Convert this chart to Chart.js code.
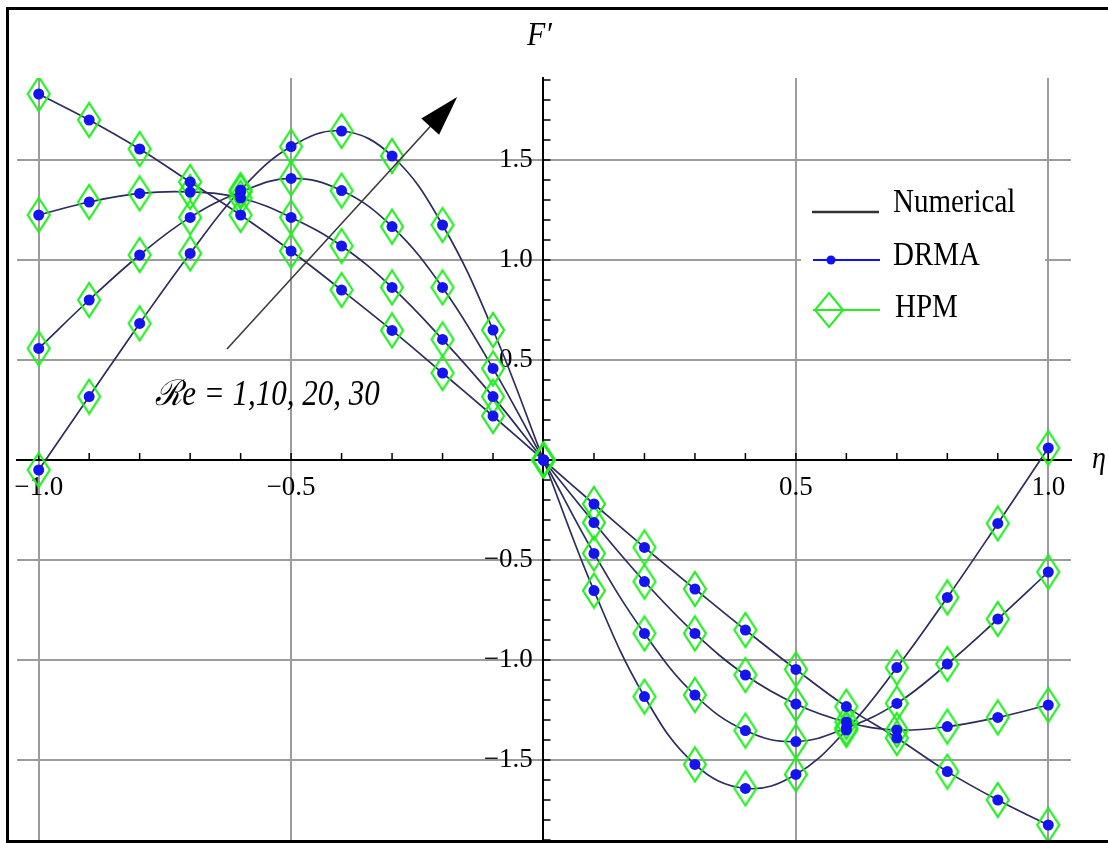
<!DOCTYPE html>
<html>
<head>
<meta charset="utf-8">
<title>F' vs eta</title>
<script src="https://cdn.jsdelivr.net/npm/chart.js@4"></script>
<style>
  html, body { margin: 0; padding: 0; background: #fff; }
</style>
</head>
<body>
<canvas id="fChart" width="1108" height="843"></canvas>
<script>
// ---------------------------------------
// DATA  (F' against eta)
// Numerical, DRMA and HPM sit on top of each other,
// so the three methods share the same values.
// ---------------------------------------

const eta = [-1.0, -0.9, -0.8, -0.7, -0.6, -0.5, -0.4, -0.3, -0.2, -0.1, 0,
              0.1,  0.2,  0.3,  0.4,  0.5,  0.6,  0.7,  0.8,  0.9, 1.0];

const re1  = [1.83, 1.70, 1.555, 1.39, 1.225, 1.045, 0.85, 0.648, 0.435, 0.22, 0,
              -0.22, -0.437, -0.645, -0.85, -1.047, -1.233, -1.39, -1.558, -1.70, -1.825];

const re10 = [1.225, 1.29, 1.333, 1.34, 1.31, 1.213, 1.07, 0.863, 0.603, 0.317, 0,
              -0.313, -0.608, -0.867, -1.075, -1.22, -1.31, -1.35, -1.333, -1.287, -1.225];

const re20 = [0.558, 0.80, 1.025, 1.213, 1.34, 1.408, 1.347, 1.167, 0.863, 0.458, 0,
              -0.467, -0.867, -1.175, -1.353, -1.408, -1.34, -1.217, -1.02, -0.795, -0.56];

const re30 = [-0.05, 0.317, 0.683, 1.033, 1.35, 1.567, 1.645, 1.52, 1.175, 0.65, 0,
              -0.653, -1.183, -1.522, -1.642, -1.572, -1.35, -1.038, -0.687, -0.317, 0.06];

const methods = ["Numerical", "DRMA", "HPM"];
const xTickLabels = [-1.0, -0.5, 0.5, 1.0];
const yTickLabels = [-1.5, -1.0, -0.5, 0.5, 1.0, 1.5];

// colours
const lineColor = "#2c2c5e";
const dotColor = "#1414ee";
const diamondColor = "#22ee22";

// ---------------------------------------
// helpers
// ---------------------------------------

function diamondImage(w, h) {
    const c = document.createElement("canvas");
    c.width = w + 4;
    c.height = h + 4;
    const g = c.getContext("2d");
    g.strokeStyle = diamondColor;
    g.lineWidth = 2.2;
    g.beginPath();
    g.moveTo(c.width / 2, 2);
    g.lineTo(c.width - 2, c.height / 2);
    g.lineTo(c.width / 2, c.height - 2);
    g.lineTo(2, c.height / 2);
    g.closePath();
    g.stroke();
    return c;
}

const diamond = diamondImage(22, 34);

const isHalf = v => Math.abs(v * 2 - Math.round(v * 2)) < 1e-6 && Math.abs(v) > 1e-6;
const fmt = v => (v < 0 ? "\u2212" : "") + Math.abs(v).toFixed(1);
const pts = arr => eta.map((x, i) => ({ x: x, y: arr[i] }));

const datasets = [];
[re1, re10, re20, re30].forEach(s => {
    datasets.push({
        label: methods[0], data: pts(s), showLine: true,
        borderColor: lineColor, borderWidth: 1.7, pointRadius: 0,
        tension: 0.4, order: 3
    });
    datasets.push({
        label: methods[2], data: pts(s), showLine: false,
        pointStyle: diamond, pointRadius: 12, order: 2
    });
    datasets.push({
        label: methods[1], data: pts(s), showLine: false,
        pointStyle: "circle", pointRadius: 5.5,
        backgroundColor: dotColor, borderColor: dotColor, borderWidth: 0, order: 1
    });
});

// stretched serif text, the figure was scaled a bit taller than wide
function sText(ctx, str, x, y, font, align) {
    ctx.save();
    ctx.font = font;
    ctx.fillStyle = "#000";
    ctx.textAlign = align || "left";
    ctx.textBaseline = "alphabetic";
    ctx.translate(x, y);
    ctx.scale(1, 1.15);
    ctx.fillText(str, 0, 0);
    ctx.restore();
}

// ---------------------------------------
// decorations: minor ticks, arrow, labels, legend, frame
// ---------------------------------------

const decor = {
    id: "decor",
    beforeDatasetsDraw(chart) {
        const ctx = chart.ctx;
        const xs = chart.scales.x, ys = chart.scales.y;
        const x0 = xs.getPixelForValue(0), y0 = ys.getPixelForValue(0);
        ctx.save();
        ctx.strokeStyle = "#000";
        ctx.lineWidth = 1.5;
        xs.ticks.forEach(t => {
            const r = Math.round(t.value * 10);
            if (Math.abs(t.value * 10 - r) > 1e-6 || r === 0) return;
            const px = xs.getPixelForValue(t.value);
            ctx.beginPath(); ctx.moveTo(px, y0); ctx.lineTo(px, y0 - 7); ctx.stroke();
        });
        ys.ticks.forEach(t => {
            const r = Math.round(t.value * 10);
            if (Math.abs(t.value * 10 - r) > 1e-6 || r === 0) return;
            const py = ys.getPixelForValue(t.value);
            ctx.beginPath(); ctx.moveTo(x0, py); ctx.lineTo(x0 + 7, py); ctx.stroke();
        });
        ctx.restore();
    },
    afterDatasetsDraw(chart) {
        const ctx = chart.ctx;
        const xs = chart.scales.x, ys = chart.scales.y;
        const P = (x, y) => [xs.getPixelForValue(x), ys.getPixelForValue(y)];

        // arrow, direction of growing Re
        const [ax, ay] = P(-0.627, 0.555);
        const [bx, by] = P(-0.171, 1.815);
        const ang = Math.atan2(by - ay, bx - ax);
        const headLen = 40, headHalf = 12;
        const hx = bx - headLen * Math.cos(ang), hy = by - headLen * Math.sin(ang);
        ctx.save();
        ctx.strokeStyle = "#3a3a3a";
        ctx.lineWidth = 1.6;
        ctx.beginPath(); ctx.moveTo(ax, ay); ctx.lineTo(hx, hy); ctx.stroke();
        ctx.fillStyle = "#000";
        ctx.beginPath();
        ctx.moveTo(bx, by);
        ctx.lineTo(hx + headHalf * Math.sin(ang), hy - headHalf * Math.cos(ang));
        ctx.lineTo(hx - headHalf * Math.sin(ang), hy + headHalf * Math.cos(ang));
        ctx.closePath();
        ctx.fill();
        ctx.restore();

        const [rx, ry] = P(-0.769, 0.275);
        sText(ctx, "\u211Be = 1,10, 20, 30", rx, ry, "italic 31px 'Liberation Serif'");

        // axis names
        sText(ctx, "F\u2032", 527, 45, "italic 30px 'Liberation Serif'");
        sText(ctx, "\u03B7", 1092, 468, "italic 28px 'Liberation Serif'");

        // legend box
        ctx.save();
        ctx.fillStyle = "#fff";
        ctx.fillRect(801, 176, 244, 166);
        ctx.lineWidth = 2.5;
        ctx.strokeStyle = "#333";
        ctx.beginPath(); ctx.moveTo(812, 212); ctx.lineTo(879, 212); ctx.stroke();
        ctx.lineWidth = 2;
        ctx.strokeStyle = "#1010ff";
        ctx.beginPath(); ctx.moveTo(813, 260); ctx.lineTo(880, 260); ctx.stroke();
        ctx.fillStyle = "#1010ff";
        ctx.beginPath(); ctx.arc(831, 260, 4.5, 0, Math.PI * 2); ctx.fill();
        ctx.strokeStyle = diamondColor;
        ctx.beginPath(); ctx.moveTo(813, 310); ctx.lineTo(880, 310); ctx.stroke();
        ctx.beginPath();
        ctx.moveTo(829, 293); ctx.lineTo(843, 310); ctx.lineTo(829, 327); ctx.lineTo(815, 310);
        ctx.closePath(); ctx.stroke();
        ctx.restore();
        sText(ctx, methods[0], 893, 212, "29px 'Liberation Serif'");
        sText(ctx, methods[1], 893, 265, "29px 'Liberation Serif'");
        sText(ctx, methods[2], 895, 317, "29px 'Liberation Serif'");
    },
    afterDraw(chart) {
        const ctx = chart.ctx;
        ctx.save();
        ctx.strokeStyle = "#000";
        ctx.lineWidth = 3;
        ctx.beginPath();
        ctx.moveTo(1108, 8.5); ctx.lineTo(7.5, 8.5); ctx.lineTo(7.5, 841.5); ctx.lineTo(1108, 841.5);
        ctx.stroke();
        ctx.restore();
    }
};

// ---------------------------------------
// CHART
// ---------------------------------------

const gridColor = ctx => isHalf(ctx.tick.value) ? "#9c9c9c" : "rgba(0,0,0,0)";
const noPad = scale => {
    scale.paddingTop = 0; scale.paddingBottom = 0;
    scale.paddingLeft = 0; scale.paddingRight = 0;
};

new Chart(document.getElementById("fChart"), {
    type: "scatter",
    data: { datasets: datasets },
    options: {
        responsive: false,
        animation: false,
        events: [],
        layout: {
            autoPadding: false,
            padding: { left: 17, right: 37, top: 78, bottom: 0 }
        },
        plugins: { legend: { display: false }, tooltip: { enabled: false } },
        scales: {
            x: {
                type: "linear",
                min: -1.043, max: 1.045,
                position: { y: 0 },
                afterFit: noPad,
                grid: { color: gridColor, lineWidth: 2, drawTicks: false },
                border: { color: "#000", width: 2 },
                ticks: {
                    stepSize: 0.1, autoSkip: false, maxRotation: 0,
                    includeBounds: false,
                    padding: 12, color: "#000",
                    font: { family: "'Liberation Serif'", size: 27 },
                    callback: v => xTickLabels.some(t => Math.abs(t - v) < 1e-6) ? fmt(v) : ""
                }
            },
            y: {
                type: "linear",
                min: -1.915, max: 1.91,
                position: { x: 0 },
                afterFit: noPad,
                grid: { color: gridColor, lineWidth: 2, drawTicks: false },
                border: { color: "#000", width: 2 },
                ticks: {
                    stepSize: 0.1, autoSkip: false,
                    includeBounds: false,
                    padding: 8, color: "#000",
                    font: { family: "'Liberation Serif'", size: 27 },
                    callback: v => yTickLabels.some(t => Math.abs(t - v) < 1e-6) ? fmt(v) + "\u2009\u2009" : ""
                }
            }
        }
    },
    plugins: [decor]
});
</script>
</body>
</html>
